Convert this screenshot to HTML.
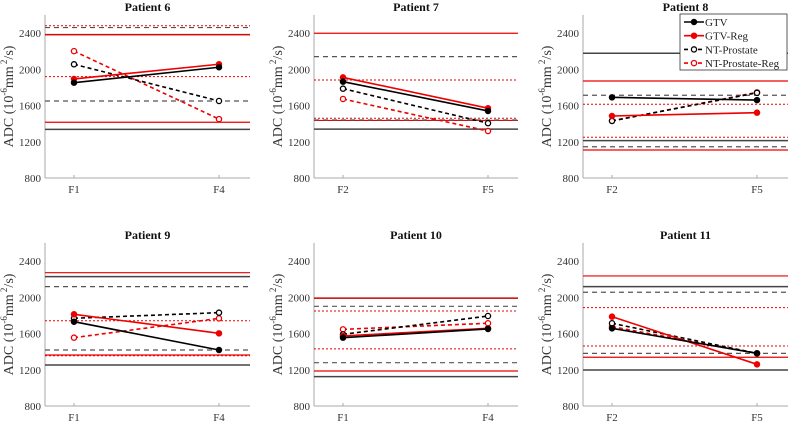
<!DOCTYPE html>
<html><head><meta charset="utf-8"><style>
body{margin:0;background:#fff;}
svg{display:block;font-family:"Liberation Serif",serif;}
</style></head><body>
<svg id="c" width="788" height="421" viewBox="0 0 788 421"></svg>
<script>
const patients = ["Patient 6","Patient 7","Patient 8","Patient 9","Patient 10","Patient 11"];
const xLabels = [["F1","F4"],["F2","F5"],["F2","F5"],["F1","F4"],["F1","F4"],["F2","F5"]];
const gtv = [[1852,2022],[1863,1540],[1690,1660],[1730,1418],[1554,1650],[1657,1381]];
const gtvReg = [[1893,2055],[1910,1570],[1484,1521],[1812,1602],[1573,1657],[1786,1260]];
const ntProstate = [[2055,1650],[1786,1405],[1430,1740],[1768,1830],[1591,1793],[1713,1381]];
const ntProstateReg = [[2200,1450],[1672,1318],[1430,1745],[1554,1767],[1646,1713],[1675,1381]];
const thrGtv = [[1337,2382],[1340,null],[1212,2176],[1252,2227],[1124,1990],[1197,2117]];
const thrGtvReg = [[1415,2382],[1435,2397],[1109,1870],[1363,2271],[1186,1990],[1338,2235]];
const thrNt = [[1650,2460],[1440,2139],[1145,1713],[1418,2117],[1278,1900],[1381,2055]];
const thrNtReg = [[1918,2480],[1459,1882],[1250,1614],[1355,1741],[1430,1848],[1462,1885]];
const yTicks = [800,1200,1600,2000,2400];

const NS="http://www.w3.org/2000/svg";
const svg=document.getElementById('c');
function el(tag,attrs,parent){const e=document.createElementNS(NS,tag);for(const k in attrs)e.setAttribute(k,attrs[k]);(parent||svg).appendChild(e);return e;}
const colL=[45,314,583], colR=[250,518,788], rowBottom=[178,406];
const pxPer=145/1600;
for(let p=0;p<6;p++){
  const c=p%3,r=Math.floor(p/3);
  const L=colL[c],R=colR[c],B=rowBottom[r],T=B-1800*pxPer;
  const yS=v=>B-(v-800)*pxPer;
  const x0=L+29,x1=L+174;
  const xs=i=>i===0?x0:x1;
  const g=el('g',{});
  
  
  const t=el('text',{x:(L+R)/2,y:T-4,'text-anchor':'middle','font-size':'12','font-weight':'bold',fill:'#111'},g);
  t.textContent=patients[p];
  
  
  el('line',{x1:L,y1:T,x2:L,y2:B,stroke:'#aaa','stroke-width':1},g);
  el('line',{x1:L,y1:B,x2:R,y2:B,stroke:'#aaa','stroke-width':1},g);
  yTicks.forEach(v=>{
    const tt=el('text',{x:L-4,y:yS(v)+4,'text-anchor':'end','font-size':'11',fill:'#333'},g);
    tt.textContent=v;
    
    
  });
  [0,1].forEach(i=>{
    const tt=el('text',{x:xs(i),y:B+15,'text-anchor':'middle','font-size':'11',fill:'#333'},g);
    tt.textContent=xLabels[p][i];
    
    
    el('line',{x1:xs(i),y1:B,x2:xs(i),y2:B-3,stroke:'#aaa'},g);
  });
  const yl=el('text',{transform:`translate(${L-32},${(T+B)/2}) rotate(-90)`,'text-anchor':'middle','font-size':'14',fill:'#333'},g);
  yl.innerHTML='ADC (10<tspan dy="-6" font-size="9">-6</tspan><tspan dy="6">mm</tspan><tspan dy="-6" font-size="9"> 2</tspan><tspan dy="6">/s)</tspan>';
  
  
  const thrSets=[[thrGtv,'#444','',1.5],[thrGtvReg,'#e00','',1.2],[thrNt,'#555','5,4',1.2],[thrNtReg,'#e00','2,2',1]];
  thrSets.forEach(([arr,col,dash,w])=>{
    arr[p].forEach(v=>{
      if(v==null)return;
      const ln=el('line',{x1:L,x2:R,y1:yS(v),y2:yS(v),stroke:col,'stroke-width':w,'stroke-dasharray':dash},g);
      
      
    });
  });
  const series=[[ntProstateReg,'#e00','4,3',false,'nt-prostate-reg'],[ntProstate,'#000','4,3',false,'nt-prostate'],[gtvReg,'#e00','',true,'gtv-reg'],[gtv,'#000','',true,'gtv']];
  series.forEach(([arr,col,dash,filled,nm])=>{
    const v=arr[p];
    const ln=el('line',{x1:xs(0),y1:yS(v[0]),x2:xs(1),y2:yS(v[1]),stroke:col,'stroke-width':1.6,'stroke-dasharray':dash},g);
    
    
    [0,1].forEach(i=>{
      const m=el('circle',{cx:xs(i),cy:yS(v[i]),r:2.6,fill:filled?col:'#fff',stroke:col,'stroke-width':1.3},g);
      
      
    });
  });
}
const lg=el('g',{});


el('rect',{x:680,y:14,width:107,height:56,fill:'#fff',stroke:'#333','stroke-width':0.8},lg);
const legNames=["GTV","GTV-Reg","NT-Prostate","NT-Prostate-Reg"];
const legCol=['#000','#e00','#000','#e00'];
legNames.forEach((n,i)=>{
  const y=22+i*13.7;
  el('line',{x1:684,x2:704,y1:y,y2:y,stroke:legCol[i],'stroke-width':1.6,'stroke-dasharray':i>1?'4,3':''},lg);
  el('circle',{cx:694,cy:y,r:2.6,fill:i>1?'#fff':legCol[i],stroke:legCol[i],'stroke-width':1.3},lg);
  const t=el('text',{x:705,y:y+4,'font-size':'11',fill:'#222'},lg);
  t.textContent=n;
  
  
});
</script>
</body></html>
